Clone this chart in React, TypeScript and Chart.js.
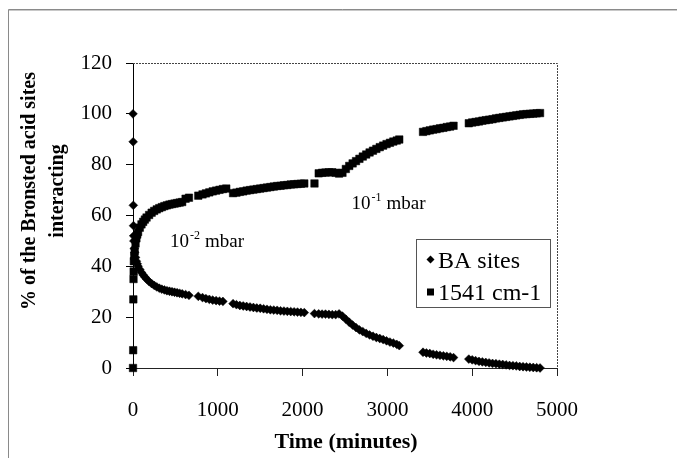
import React, { useEffect, useRef } from "react";
import { Chart, registerables } from "chart.js";

Chart.register(...registerables);

const timeMin: number[] = [
  0, 2, 4, 6, 8, 10, 15, 20, 30, 40, 50, 60, 80, 100, 120, 140, 160, 190, 220, 250,
  280, 310, 340, 370, 400, 430, 460, 490, 520, 550, 580, 620, 660, 770, 820, 860, 900, 940, 980, 1020,
  1060, 1100, 1180, 1220, 1260, 1300, 1340, 1380, 1420, 1460, 1500, 1540, 1580, 1620, 1660, 1700, 1740, 1780, 1820, 1860,
  1900, 1940, 1980, 2020, 2140, 2190, 2230, 2270, 2310, 2350, 2390, 2430, 2470, 2510, 2550, 2590, 2630, 2670, 2710, 2750,
  2790, 2830, 2870, 2910, 2950, 2990, 3030, 3070, 3110, 3140, 3420, 3460, 3500, 3540, 3580, 3620, 3660, 3700, 3740, 3780,
  3960, 4000, 4040, 4080, 4120, 4160, 4200, 4240, 4280, 4320, 4360, 4400, 4440, 4480, 4520, 4560, 4600, 4640, 4680, 4720,
  4760, 4800,
];

const baSites: (number | null)[] = [
  100, 89, 64, 56, 52, 50, 47, 45.5, 43.5, 42, 41, 40, 38.8, 37.6, 36.6, 35.8, 35.0, 34.0, 33.2, 32.5,
  31.9, 31.4, 31.0, 30.7, 30.4, 30.2, 30.0, 29.8, 29.6, 29.4, 29.2, 28.9, 28.6, 28.2, 27.7, 27.3, 27.0, 26.7, 26.5, 26.3,
  26.2, null, 25.3, 24.9, 24.6, 24.4, 24.2, 24.0, 23.8, 23.6, 23.5, 23.3, 23.1, 22.9, 22.8, 22.7, 22.5, 22.4, 22.3, 22.2,
  22.1, 22.0, 21.9, 21.8, 21.4, 21.3, 21.2, 21.2, 21.1, 21.0, 21.0, 21.3, 20.4, 19.2, 18.0, 16.9, 15.9, 15.0, 14.3, 13.6,
  13.0, 12.5, 12.0, 11.6, 11.2, 10.7, 10.2, 9.8, 9.3, 8.8, 6.2, 5.9, 5.7, 5.4, 5.2, 5.0, 4.8, 4.6, 4.4, 4.1,
  3.5, 3.2, 2.9, 2.6, 2.4, 2.2, 2.0, 1.8, 1.7, 1.5, 1.4, 1.2, 1.0, 0.9, 0.8, 0.6, 0.5, 0.4, 0.3, 0.2,
  0.1, 0.0,
];

const band1541: (number | null)[] = [
  0, 7, 27, 35, 38, 42, 44, 46, 49, 51, 52.5, 53.5, 55.2, 56.5, 57.5, 58.4, 59.2, 60.2, 61.1, 61.8,
  62.4, 62.9, 63.3, 63.7, 64.0, 64.3, 64.5, 64.7, 64.9, 65.1, 65.3, 66.6, 67.0, 67.8, 68.3, 68.7, 69.1, 69.5, 69.8, 70.1,
  70.4, 70.6, 68.8, 69.0, 69.3, 69.5, 69.8, 70.0, 70.2, 70.4, 70.6, 70.8, 71.0, 71.2, 71.4, 71.6, 71.7, 71.9, 72.0, 72.2,
  72.3, 72.4, 72.5, 72.6, 72.6, 76.6, 76.8, 76.9, 77.0, 77.0, 76.8, 76.5, 76.8, 78.3, 79.5, 80.5, 81.4, 82.3, 83.2, 84.0,
  84.8, 85.5, 86.2, 86.9, 87.5, 88.1, 88.6, 89.1, 89.5, 89.9, 92.9, 93.2, 93.5, 93.8, 94.0, 94.3, 94.5, 94.8, 95.0, 95.3,
  96.3, 96.6, 96.8, 97.0, 97.3, 97.5, 97.7, 97.9, 98.2, 98.4, 98.6, 98.8, 99.0, 99.2, 99.4, 99.6, 99.8, 99.9, 100, 100.1,
  100.2, 100.3,
];

const xTicks: number[] = [0, 1000, 2000, 3000, 4000, 5000];
const yTicks: number[] = [0, 20, 40, 60, 80, 100, 120];

const seriesNames: string[] = ["BA sites", "1541 cm-1"];
const yTitleLines: string[] = ["% of the Bronsted acid sites", "interacting"];
const xTitle = "Time (minutes)";
const pressureLabels: { base: string; exp: string; unit: string }[] = [
  { base: "10", exp: "-2", unit: "mbar" },
  { base: "10", exp: "-1", unit: "mbar" },
];

const SERIF = "'Liberation Serif', 'Times New Roman', Times, serif";

const decorPlugin = {
  id: "decor",
  beforeDatasetsDraw(chart: any) {
    const { ctx, chartArea } = chart;
    ctx.save();
    ctx.strokeStyle = "#444";
    ctx.lineWidth = 1;
    ctx.setLineDash([2, 1]);
    ctx.beginPath();
    ctx.moveTo(chartArea.left, chartArea.top + 0.5);
    ctx.lineTo(chartArea.right + 0.5, chartArea.top + 0.5);
    ctx.lineTo(chartArea.right + 0.5, chartArea.bottom);
    ctx.stroke();
    ctx.setLineDash([]);
    ctx.restore();
  },
  afterDraw(chart: any) {
    const { ctx, width, height } = chart;
    ctx.save();
    ctx.strokeStyle = "#8a8a8a";
    ctx.lineWidth = 1;
    ctx.beginPath();
    ctx.moveTo(8.5, height);
    ctx.lineTo(8.5, 9.5);
    ctx.lineTo(width, 9.5);
    ctx.stroke();
    ctx.strokeStyle = "#c8c8c8";
    ctx.beginPath();
    ctx.moveTo(9, 10.5);
    ctx.lineTo(width, 10.5);
    ctx.stroke();

    ctx.fillStyle = "#000";
    ctx.font = `bold 20px ${SERIF}`;
    ctx.textAlign = "center";
    ctx.textBaseline = "middle";
    const yCenters = [30, 58];
    yTitleLines.forEach((line, i) => {
      ctx.save();
      ctx.translate(yCenters[i], 191);
      ctx.rotate(-Math.PI / 2);
      ctx.fillText(line, 0, 0);
      ctx.restore();
    });
    ctx.font = `bold 22px ${SERIF}`;
    ctx.fillText(xTitle, 346, 442);

    const spots = [
      { x: 170, y: 247 },
      { x: 351.5, y: 209 },
    ];
    ctx.textAlign = "left";
    ctx.textBaseline = "alphabetic";
    pressureLabels.forEach((p, i) => {
      const s = spots[i];
      ctx.font = `19px ${SERIF}`;
      ctx.fillText(p.base, s.x, s.y);
      const w1 = ctx.measureText(p.base).width;
      ctx.font = `12px ${SERIF}`;
      ctx.fillText(p.exp, s.x + w1 + 1, s.y - 8);
      const w2 = ctx.measureText(p.exp).width;
      ctx.font = `19px ${SERIF}`;
      ctx.fillText(p.unit, s.x + w1 + w2 + 6, s.y);
    });

    const bx = 416.5, by = 239.5, bw = 134, bh = 68;
    ctx.fillStyle = "#fff";
    ctx.fillRect(bx, by, bw, bh);
    ctx.strokeStyle = "#555";
    ctx.lineWidth = 1;
    ctx.strokeRect(bx, by, bw, bh);
    ctx.fillStyle = "#000";
    ctx.font = `24px ${SERIF}`;
    const rows = [259.5, 292];
    seriesNames.forEach((name, i) => {
      const cy = rows[i];
      ctx.beginPath();
      if (i === 0) {
        ctx.moveTo(430.5, cy - 4);
        ctx.lineTo(434.5, cy);
        ctx.lineTo(430.5, cy + 4);
        ctx.lineTo(426.5, cy);
        ctx.closePath();
        ctx.fill();
      } else {
        ctx.fillRect(427, cy - 3.5, 7, 7);
      }
      ctx.fillText(name, 438, cy + 8);
    });
    ctx.restore();
  },
};

export default function App() {
  const ref = useRef<HTMLCanvasElement | null>(null);
  useEffect(() => {
    if (!ref.current) return;
    const baPts = timeMin
      .map((t, i) => ({ x: t, y: baSites[i] }))
      .filter((p) => p.y !== null);
    const bandPts = timeMin
      .map((t, i) => ({ x: t, y: band1541[i] }))
      .filter((p) => p.y !== null);
    const chart = new Chart(ref.current, {
      type: "scatter",
      data: {
        datasets: [
          {
            label: seriesNames[0],
            data: baPts as any,
            pointStyle: "rectRot",
            pointRadius: 4.4,
            backgroundColor: "#000",
            borderColor: "#000",
            borderWidth: 0.5,
            showLine: false,
            clip: false as any,
          },
          {
            label: seriesNames[1],
            data: bandPts as any,
            pointStyle: "rect",
            pointRadius: 5.3,
            backgroundColor: "#000",
            borderColor: "#000",
            borderWidth: 0.5,
            showLine: false,
            clip: false as any,
          },
        ],
      },
      options: {
        responsive: false,
        animation: false,
        events: [],
        layout: { padding: { left: 0, top: 63, right: 120, bottom: 0 } },
        plugins: { legend: { display: false }, tooltip: { enabled: false } },
        scales: {
          x: {
            type: "linear",
            min: xTicks[0],
            max: xTicks[xTicks.length - 1],
            afterFit: (s: any) => {
              s.height = 90;
            },
            afterBuildTicks: (s: any) => {
              s.ticks = xTicks.map((v) => ({ value: v }));
            },
            border: { display: true, color: "#222", width: 1 },
            grid: { display: true, drawOnChartArea: false, drawTicks: true, tickLength: 8, color: "#222" },
            ticks: {
              font: { family: SERIF, size: 21 },
              color: "#000",
              padding: 22,
              maxRotation: 0,
              callback: (v: any) => String(v),
            },
          },
          y: {
            type: "linear",
            min: yTicks[0],
            max: yTicks[yTicks.length - 1],
            afterFit: (s: any) => {
              s.width = 133;
            },
            afterBuildTicks: (s: any) => {
              s.ticks = yTicks.map((v) => ({ value: v }));
            },
            border: { display: true, color: "#000", width: 1 },
            grid: { display: true, drawOnChartArea: false, drawTicks: true, tickLength: 7, color: "#000" },
            ticks: {
              font: { family: SERIF, size: 21 },
              color: "#000",
              padding: 14,
              callback: (v: any) => String(v),
            },
          },
        },
      },
      plugins: [decorPlugin],
    });
    return () => chart.destroy();
  }, []);
  return (
    <div style={{ position: "absolute", left: 0, top: 0, width: 677, height: 458, background: "#fff" }}>
      <canvas ref={ref} width={677} height={458} style={{ display: "block" }} />
    </div>
  );
}
